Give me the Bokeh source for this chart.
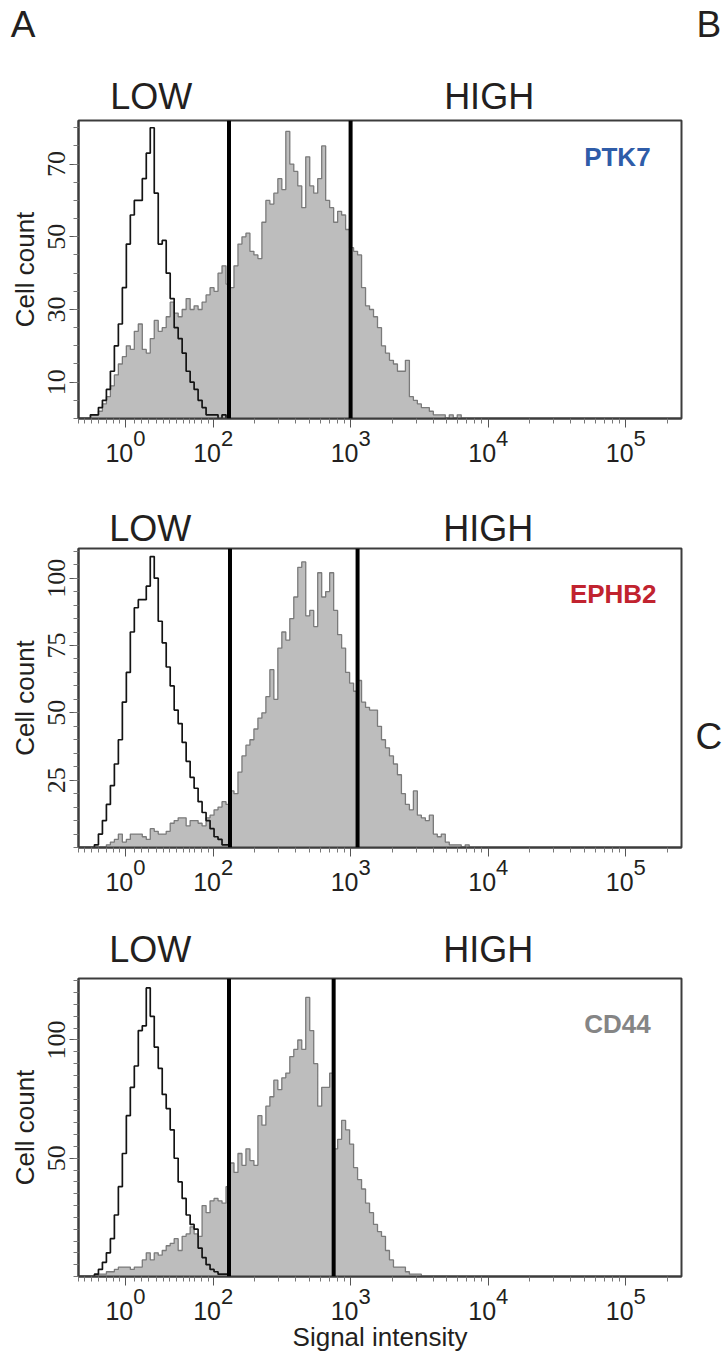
import math
from bokeh.plotting import figure
from bokeh.models import Range1d, FixedTicker, Span, Label, LinearAxis
from bokeh.layouts import column
from bokeh.embed import file_html
from bokeh.resources import INLINE

# ---------------- data (histogram counts, bins of 4 display channels from channel 0) ----------------
BIN_WIDTH = 4

ptk7_control = [0, 0, 0, 1, 1, 3, 5, 8, 13, 20, 26, 36, 48, 56, 60, 60, 66, 73, 80, 62, 48, 49, 40, 33,
                25, 22, 18, 13, 10, 8, 5, 3, 1, 1, 1, 0, 1]
ptk7_stained = [0, 0, 0, 1, 1, 2, 4, 6, 9, 12, 15, 17, 20, 19, 24, 26, 19, 18, 22, 27, 24, 25, 28, 32,
                29, 28, 30, 33, 30, 31, 30, 32, 34, 36, 35, 40, 42, 37, 36, 42, 48, 50, 51, 46, 45, 44,
                54, 60, 59, 62, 66, 63, 79, 70, 68, 64, 58, 72, 64, 62, 66, 75, 60, 58, 54, 57, 56, 52,
                47, 46, 45, 36, 31, 30, 28, 25, 20, 18, 16, 15, 13, 13, 16, 6, 5, 4, 3, 3, 2, 1, 1, 1,
                0, 1, 0, 1]

ephb2_control = [0, 0, 0, 0, 1, 5, 10, 16, 23, 31, 40, 54, 65, 80, 89, 92, 92, 97, 108, 100, 84, 76,
                 67, 60, 51, 46, 39, 32, 26, 22, 17, 13, 10, 7, 4, 3, 1, 1]
ephb2_stained = [0, 0, 0, 0, 0, 0, 0, 1, 2, 3, 5, 2, 3, 5, 5, 5, 4, 3, 7, 6, 5, 5, 6, 9, 10, 11, 11, 8,
                 10, 10, 9, 8, 11, 12, 14, 15, 17, 16, 21, 20, 28, 34, 38, 40, 44, 48, 50, 56, 66, 55,
                 74, 80, 77, 85, 93, 104, 106, 86, 88, 82, 102, 93, 95, 102, 88, 79, 74, 65, 61, 58,
                 62, 54, 52, 51, 51, 45, 40, 37, 34, 31, 27, 20, 16, 14, 21, 12, 11, 10, 12, 5, 4, 5,
                 2, 1, 1, 1, 0, 1]

cd44_control = [0, 0, 0, 0, 1, 3, 6, 10, 16, 26, 38, 52, 68, 80, 89, 104, 106, 122, 110, 97, 88, 77,
                71, 62, 50, 40, 33, 26, 22, 20, 12, 8, 5, 3, 2, 1, 1, 1]
cd44_stained = [0, 0, 0, 0, 0, 1, 1, 2, 2, 3, 4, 4, 4, 3, 4, 4, 7, 10, 7, 10, 9, 11, 13, 14, 16, 11,
                17, 18, 21, 18, 17, 30, 27, 32, 33, 32, 31, 38, 48, 44, 52, 47, 54, 49, 47, 68, 64, 72,
                76, 83, 79, 84, 86, 93, 96, 100, 96, 118, 104, 90, 72, 80, 80, 86, 54, 58, 66, 62, 56,
                46, 41, 37, 31, 27, 22, 19, 17, 11, 7, 4, 4, 4, 2, 1, 1, 1]

# gate positions (display channels)
ptk7_gates = [151, 273]
ephb2_gates = [152, 280]
cd44_gates = [151, 256]

# x-axis decade ticks (display channels) and their exponents
xtick_channels = [47, 135, 273, 411, 549]
xtick_exponents = ["0", "2", "3", "4", "5"]
DECADE = 138
lin_minor = [0, 6, 13, 20, 28, 35, 41, 56, 63, 70, 78, 85, 91, 98, 105, 111, 116, 123, 130]

markers = ["PTK7", "EPHB2", "CD44"]
marker_colors = ["#2f5ca8", "#c1232f", "#858585"]
gate_names = ["LOW", "HIGH"]
panel_letters = ["A", "B", "C"]

FONT = "Liberation Sans"
TXT = "#231f20"
X_MAX = 605
BL, BR = 78, 42


def minor_x():
    m = list(lin_minor)
    for start in xtick_channels[1:]:
        for k in range(2, 10):
            pos = start + math.log10(k) * DECADE
            if pos < X_MAX:
                m.append(pos)
    return m


def lab(p, x, y, text, size, align="center", xo=0, yo=0, color=TXT, style="normal"):
    p.add_layout(Label(x=x, y=y, x_offset=xo, y_offset=yo, text=text, text_align=align,
                       text_baseline="alphabetic", text_font=FONT, text_font_size=size,
                       text_color=color, text_font_style=style))


def text_axis(positions, texts, size, standoff):
    ax = LinearAxis(ticker=FixedTicker(ticks=positions, minor_ticks=[]))
    ax.major_label_overrides = {pp: t for pp, t in zip(positions, texts)}
    ax.major_label_text_font = FONT
    ax.major_label_text_font_size = size
    ax.major_label_text_color = TXT
    ax.major_label_standoff = standoff
    ax.major_tick_line_color = None
    ax.minor_tick_line_color = None
    ax.major_tick_out = 0
    ax.major_tick_in = 0
    ax.minor_tick_out = 0
    ax.minor_tick_in = 0
    ax.axis_line_color = None
    return ax


def panel(height, bt, bb, ymax, yticks, control, stained, gates, marker, mcolor,
          gate_label_x, gate_label_standoff, mark_x, mark_off, xlabel=""):
    p = figure(width=725, height=height, x_range=Range1d(0, X_MAX), y_range=Range1d(0, ymax),
               output_backend="svg", toolbar_location=None,
               min_border_top=bt, min_border_bottom=bb, min_border_left=BL, min_border_right=BR)
    p.grid.visible = False
    p.outline_line_color = "#3c3c3c"
    p.outline_line_width = 2
    p.background_fill_color = "white"
    p.border_fill_color = "white"

    edges = [i * BIN_WIDTH for i in range(len(stained) + 1)]
    ys = list(stained) + [0]
    p.varea_step(x=edges, y1=[0] * len(edges), y2=ys, step_mode="after", fill_color="#bdbdbd")
    p.step(x=edges, y=ys, mode="after", line_color="#7a7a7a", line_width=1.3)

    edges_c = [i * BIN_WIDTH for i in range(len(control) + 1)]
    yc = list(control) + [0]
    p.step(x=edges_c, y=yc, mode="after", line_color="#141414", line_width=1.7)

    for g in gates:
        p.add_layout(Span(location=g, dimension="height", line_color="black", line_width=4))

    # main x axis: ticks only
    xa = p.xaxis[0]
    xa.ticker = FixedTicker(ticks=xtick_channels, minor_ticks=minor_x())
    xa.major_label_overrides = {t: "" for t in xtick_channels}
    xa.major_label_text_font_size = "1px"
    xa.major_label_standoff = 0
    xa.major_tick_out = 9
    xa.major_tick_in = 0
    xa.minor_tick_out = 5
    xa.minor_tick_in = 0
    xa.major_tick_line_color = "#555555"
    xa.minor_tick_line_color = "#777777"
    xa.axis_line_color = "#3c3c3c"
    xa.axis_line_width = 2

    # decade labels: exponent row, then "10" row
    exp_axis = text_axis([t + 14 for t in xtick_channels], xtick_exponents, "22px", 3)
    ten_axis = text_axis([t - 6 for t in xtick_channels], ["10"] * len(xtick_channels), "25px", -5)
    p.add_layout(exp_axis, "below")
    p.add_layout(ten_axis, "below")
    if xlabel:
        ten_axis.axis_label = xlabel
        ten_axis.axis_label_text_font = FONT
        ten_axis.axis_label_text_font_size = "26px"
        ten_axis.axis_label_text_font_style = "normal"
        ten_axis.axis_label_text_color = TXT
        ten_axis.axis_label_standoff = -1

    # LOW / HIGH above the frame
    p.add_layout(text_axis(gate_label_x, gate_names, "36px", gate_label_standoff), "above")

    # y axis
    ya = p.yaxis[0]
    ya.ticker = FixedTicker(ticks=yticks, minor_ticks=list(range(0, int(ymax) + 1, 5)))
    ya.major_label_orientation = "vertical"
    ya.major_label_text_font = "Liberation Sans Narrow"
    ya.major_label_text_font_size = "26px"
    ya.major_label_text_color = TXT
    ya.major_label_standoff = 4
    ya.major_tick_out = 9
    ya.major_tick_in = 0
    ya.minor_tick_out = 5
    ya.minor_tick_in = 0
    ya.major_tick_line_color = "#555555"
    ya.minor_tick_line_color = "#777777"
    ya.axis_line_color = "#3c3c3c"
    ya.axis_line_width = 2
    ya.axis_label = "Cell count"
    ya.axis_label_text_font = FONT
    ya.axis_label_text_font_size = "26px"
    ya.axis_label_text_font_style = "normal"
    ya.axis_label_text_color = TXT
    ya.axis_label_standoff = 6

    lab(p, mark_x, ymax, marker, "26px", align="right", yo=mark_off, color=mcolor, style="bold")
    return p


# header row carrying the panel letters A and B (as left / right label-only axes)
header = figure(width=725, height=60, x_range=Range1d(0, 1), y_range=Range1d(0, 60),
                x_axis_type=None, y_axis_type=None, output_backend="svg", toolbar_location=None,
                min_border_left=BL, min_border_right=BR, min_border_top=0, min_border_bottom=0)
header.outline_line_color = None
header.grid.visible = False
header.add_layout(text_axis([36.5], [panel_letters[0]], "37px", 43), "left")
header.add_layout(text_axis([36.5], [panel_letters[1]], "37px", 15), "right")

p1 = panel(430, 60, 72, 82, [10, 30, 50, 70], ptk7_control, ptk7_stained, ptk7_gates,
           markers[0], marker_colors[0], [73, 412], 4, 574, -36)

p2 = panel(430, 58, 73, 111, [25, 50, 75, 100], ephb2_control, ephb2_stained, ephb2_gates,
           markers[1], marker_colors[1], [72, 411], 0, 580, -45)
p2.add_layout(text_axis([41.2], [panel_letters[2]], "37px", 14), "right")

p3 = panel(444, 58, 88, 126, [50, 100], cd44_control, cd44_stained, cd44_gates,
           markers[2], marker_colors[2], [72, 411], 9, 574, -45, xlabel="Signal intensity")

layout = column(header, p1, p2, p3, spacing=0)
open("out.html", "w").write(file_html(layout, INLINE))
